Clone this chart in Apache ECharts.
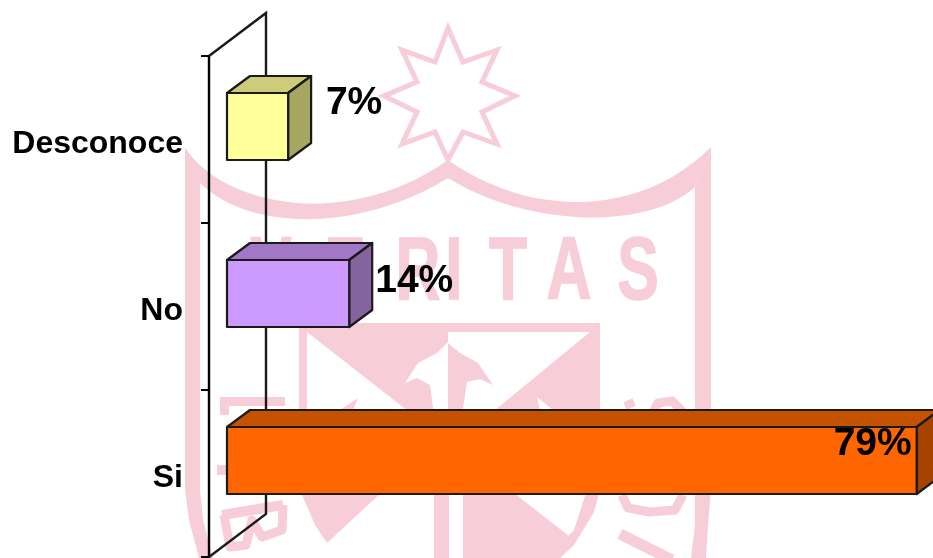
<!DOCTYPE html>
<html>
<head>
<meta charset="utf-8">
<style>
  html, body { margin: 0; padding: 0; background: #fff; }
  #chart { width: 933px; height: 558px; }
</style>
<script src="https://cdn.jsdelivr.net/npm/echarts@6/dist/echarts.min.js"></script>
</head>
<body>
<div id="chart"></div>
<script>
// bottom to top, as the category axis runs
const categories = ['Si', 'No', 'Desconoce'];
const percentValues = [79, 14, 7];

const frontColors = ['#FF6600', '#CC99FF', '#FFFF99'];
const topColors = ['#C45200', '#A277C8', '#CCCC7A'];
const sideColors = ['#A64300', '#85639F', '#A6A660'];

// the value labels are hand placed in the original
const labelShiftX = [-44, 65, 66];
const labelShiftY = [17, 21, 10];

const PINK = '#F7CDD8';
const FONT = '"Liberation Sans", Arial, sans-serif';

function area(points, fill) {
  return { type: 'polygon', z: -10, silent: true, shape: { points: points }, style: { fill: fill || PINK } };
}
function stroke(points, width) {
  return {
    type: 'polyline', z: -10, silent: true, shape: { points: points },
    style: { fill: null, stroke: PINK, lineWidth: width, lineJoin: 'round' }
  };
}
function letter(ch, cx) {
  return {
    type: 'text', z: -10, silent: true, x: cx, y: 274, scaleX: 0.7,
    style: {
      text: ch, font: 'bold 89px ' + FONT, fill: PINK, stroke: PINK, lineWidth: 1.5,
      textAlign: 'center', textVerticalAlign: 'middle'
    }
  };
}
// outline points of a crest curve
function curve(p0, p1, p2, p3) {
  const pts = [];
  for (let k = 0; k <= 24; k++) {
    const t = k / 24;
    const s = 1 - t;
    pts.push([
      s * s * s * p0[0] + 3 * s * s * t * p1[0] + 3 * s * t * t * p2[0] + t * t * t * p3[0],
      s * s * s * p0[1] + 3 * s * s * t * p1[1] + 3 * s * t * t * p2[1] + t * t * t * p3[1]
    ]);
  }
  return pts;
}

// university crest behind the chart
const watermark = [
  // star
  {
    type: 'polygon', z: -10, silent: true,
    shape: {
      points: [[448, 28], [463, 62], [497, 50], [482, 82], [515, 96], [482, 112], [497, 144], [463, 132],
        [448, 160], [435, 132], [402, 144], [417, 112], [384, 96], [417, 82], [402, 50], [435, 62]]
    },
    style: { fill: null, stroke: PINK, lineWidth: 5 }
  },
  // arched top of the shield
  area(curve([185, 148], [225, 208], [350, 230], [448, 160]).concat(curve([448, 178], [360, 232], [250, 232], [200, 183]))),
  area(curve([448, 160], [530, 218], [640, 218], [711, 147]).concat(curve([695, 187], [650, 229], [530, 229], [448, 178]))),
  // shield sides
  area([[185, 148], [200, 170], [200, 490], [203, 520], [213, 558], [199, 558], [189, 520], [185, 490]]),
  area([[711, 147], [711, 490], [708, 525], [706, 558], [691, 558], [695, 525], [695, 187]]),
  letter('V', 271), letter('E', 345), letter('R', 418), letter('I', 454),
  letter('T', 508), letter('A', 569), letter('S', 638),
  // inner panel
  area([[299, 323], [600, 323], [600, 415], [592, 415], [592, 332], [307, 332], [307, 415], [299, 415]]),
  area([[307, 332], [448, 332], [448, 415], [413, 415]]),
  area([[590, 332], [592, 332], [592, 415], [489, 415]]),
  area([[448, 342], [437, 353], [418, 363], [405, 383], [417, 378], [430, 385], [434, 415], [448, 415]], '#FFFFFF'),
  area([[448, 343], [460, 353], [478, 363], [493, 385], [480, 379], [467, 382], [462, 415], [448, 415]]),
  area([[340, 410], [358, 398], [353, 410]]),
  area([[537, 397], [553, 410], [540, 410]], '#FFFFFF'),
  // panel below the long bar
  area([[300, 490], [384, 490], [327, 543], [315, 525]]),
  area([[434, 490], [449, 490], [449, 558], [434, 558]]),
  area([[463, 490], [510, 490], [574, 540], [555, 558], [463, 558]]),
  area([[587, 490], [600, 490], [594, 512], [574, 545], [560, 558], [548, 558], [574, 530]]),
  // letters round the rim
  area([[220, 397], [285, 397], [285, 406], [229, 406], [229, 415], [220, 415]]),
  area([[217, 465], [228, 465], [228, 475], [217, 475]]),
  stroke([[222, 515], [283, 505]], 10),
  stroke([[283, 505], [282, 530], [262, 537], [252, 520], [246, 545], [230, 547], [224, 515]], 9),
  stroke([[625, 406], [634, 402]], 8),
  stroke([[653, 412], [658, 403], [672, 401], [683, 412]], 9),
  stroke([[622, 495], [628, 508], [650, 512], [675, 510], [683, 495]], 9),
  stroke([[620, 534], [672, 560]], 11)
];

const barHeight = 67;
const barLift = 13;
const depthX = 23;
const depthY = 17;

function renderBar(params, api) {
  const i = api.value(1);
  const end = api.coord([api.value(0), i]);
  const start = api.coord([0, i]);
  const top = end[1] - barLift - barHeight / 2;
  const bottom = top + barHeight;
  const x0 = start[0];
  const x1 = end[0];
  const edge = { stroke: '#1a1a1a', lineWidth: 2.2, lineJoin: 'round' };
  return {
    type: 'group',
    children: [
      {
        type: 'polygon',
        shape: { points: [[x0, top], [x0 + depthX, top - depthY], [x1 + depthX, top - depthY], [x1, top]] },
        style: Object.assign({ fill: topColors[i] }, edge)
      },
      {
        type: 'polygon',
        shape: { points: [[x1, top], [x1 + depthX, top - depthY], [x1 + depthX, bottom - depthY], [x1, bottom]] },
        style: Object.assign({ fill: sideColors[i] }, edge)
      },
      {
        type: 'rect',
        shape: { x: x0, y: top, width: x1 - x0, height: barHeight },
        style: Object.assign({ fill: frontColors[i] }, edge)
      },
      {
        type: 'text',
        x: x1 + labelShiftX[i],
        y: top + labelShiftY[i],
        style: {
          text: api.value(0) + '%', font: 'bold 39px ' + FONT, fill: '#000',
          textAlign: 'center', textVerticalAlign: 'middle'
        }
      }
    ]
  };
}

// back wall of the 3D plot
function renderWall(params, api) {
  const box = params.coordSys;
  const frontX = box.x - 18;
  const backX = frontX + 57;
  const rise = 43;
  return {
    type: 'polyline',
    shape: {
      points: [
        [frontX, box.y], [backX, box.y - rise],
        [backX, box.y + box.height - rise], [frontX, box.y + box.height]
      ]
    },
    style: { fill: null, stroke: '#1a1a1a', lineWidth: 2.4 }
  };
}

const myChart = echarts.init(document.getElementById('chart'), null, { renderer: 'canvas' });
myChart.setOption({
  animation: false,
  backgroundColor: '#fff',
  graphic: watermark,
  grid: { left: 227, top: 56, width: 698.4, height: 501, containLabel: false },
  xAxis: { type: 'value', min: 0, max: 80, show: false },
  yAxis: {
    type: 'category',
    data: categories,
    offset: 18,
    axisLine: { show: true, onZero: false, lineStyle: { color: '#000', width: 2.4 } },
    axisTick: { show: true, length: 8, lineStyle: { color: '#000', width: 2 } },
    axisLabel: {
      color: '#000', fontFamily: FONT, fontWeight: 'bold', fontSize: 32,
      margin: 26, verticalAlign: 'top', lineHeight: 10
    },
    splitLine: { show: false }
  },
  series: [
    {
      type: 'custom', z: 1, silent: true, clip: false,
      renderItem: renderWall,
      data: [[0, 0]],
      encode: { x: 0, y: 1 }
    },
    {
      type: 'custom', z: 3, silent: true, clip: false,
      renderItem: renderBar,
      data: percentValues.map((v, i) => [v, i]),
      encode: { x: 0, y: 1 }
    }
  ]
});
</script>
</body>
</html>
